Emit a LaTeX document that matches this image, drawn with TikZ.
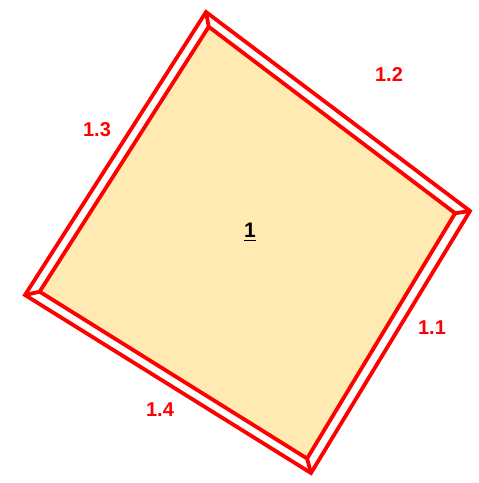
\documentclass[tikz,border=0pt]{standalone}
\usepackage{fontspec}
\setmainfont{Liberation Sans}
\usepackage{tikz}
\usetikzlibrary{calc}
\definecolor{EdgeRed}{RGB}{255,0,0}
\definecolor{FaceFill}{RGB}{255,235,178}

\begin{document}
\begin{tikzpicture}[x=0.5pt,y=-0.5pt,
    edge/.style={draw=EdgeRed, line width=1.9pt, line join=miter},
    edgelabel/.style={text=EdgeRed, font=\fontsize{10}{12}\selectfont\bfseries}]
      \useasboundingbox[fill=white] (0,0) rectangle (478,483);
      % outer corners
      \coordinate (ct) at (206,12);
      \coordinate (cr) at (470,211);
      \coordinate (cb) at (311,473);
      \coordinate (cl) at (25,295);
      \coordinate (cc) at (249,244);
      % inner corners
      \foreach \c in {t,r,b,l}
        \coordinate (i\c) at ($(c\c)!7.5pt!(cc)$);
      \fill[FaceFill] (it) -- (ir) -- (ib) -- (il) -- cycle;
      \draw[edge] (ct) -- (cr) -- (cb) -- (cl) -- cycle;
      \draw[edge] (it) -- (ir) -- (ib) -- (il) -- cycle;
      \foreach \c in {t,r,b,l}
        \draw[edge] (c\c) -- (i\c);
      \node[edgelabel] (l11) at (432,328) {1.1};
      \node[edgelabel] (l12) at (389,75) {1.2};
      \node[edgelabel] (l13) at (97,130) {1.3};
      \node[edgelabel] (l14) at (160,410) {1.4};
      \node[font=\fontsize{10.5}{12}\selectfont\bfseries] (face) at (250,232) {\underline{1}};
    \end{tikzpicture}
\end{document}
